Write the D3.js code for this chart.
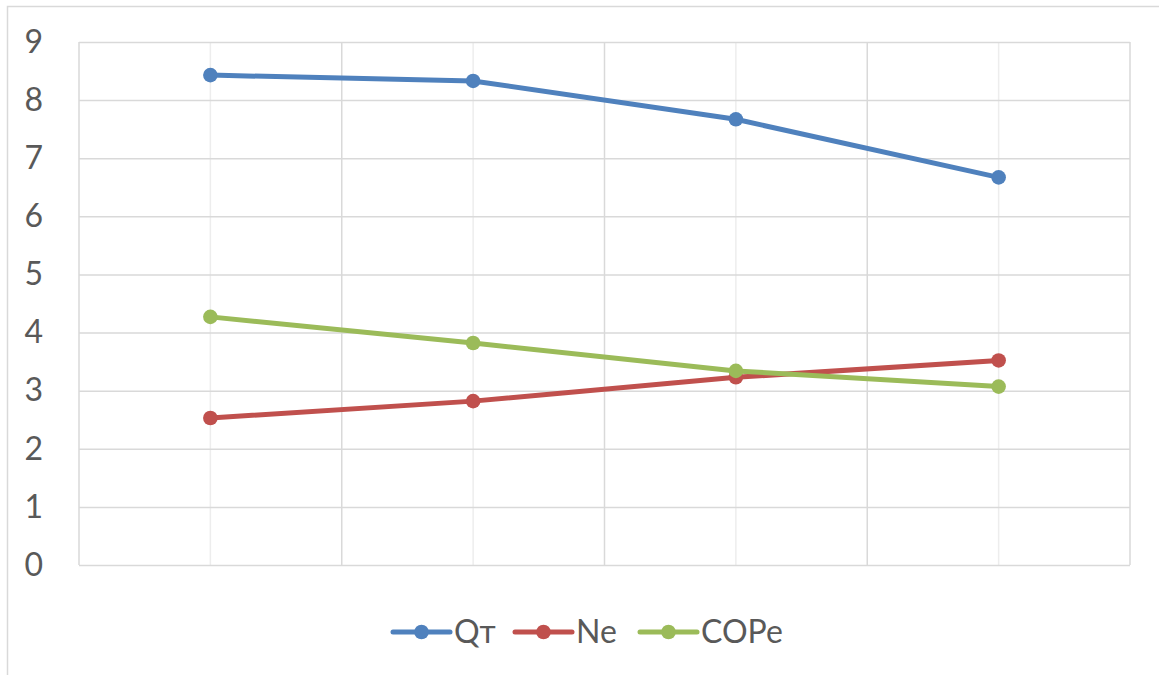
<!DOCTYPE html>
<html>
<head>
<meta charset="utf-8">
<script src="https://cdn.jsdelivr.net/npm/d3@7"></script>
<style>
  body { margin: 0; background: #fff; }
  svg { display: block; font-family: Lato, "Open Sans", sans-serif; }
</style>
</head>
<body>
<div id="chart"></div>
<script>
// data
const categories = ["1", "2", "3", "4"];
const qt   = [8.43, 8.33, 7.67, 6.67];
const ne   = [2.53, 2.82, 3.23, 3.52];
const cope = [4.27, 3.82, 3.34, 3.07];
const yTicks = [0, 1, 2, 3, 4, 5, 6, 7, 8, 9];

const series = [
  {name: "Q\u0442", values: qt,   color: "#4f81bd"},
  {name: "Ne",      values: ne,   color: "#c0504d"},
  {name: "COPe",    values: cope, color: "#9bbb59"}
];

const W = 1159, H = 675;
const m = {top: 42, right: 29, bottom: 110, left: 79},
    w = W - m.left - m.right,
    h = H - m.top - m.bottom;

const svg = d3.select("#chart")
  .append("svg")
    .attr("width", W)
    .attr("height", H);

// chart frame
svg.append("rect")
    .attr("x", 7.5).attr("y", 6.5)
    .attr("width", W + 20).attr("height", H + 20)
    .attr("fill", "none")
    .attr("stroke", "#d9d9d9")
    .attr("stroke-width", 1.5);

const g = svg.append("g")
    .attr("transform", `translate(${m.left},${m.top})`);

var x = d3.scaleBand()
    .domain(categories)
    .range([0, w]);

var y = d3.scaleLinear()
    .domain([0, 9])
    .range([h, 0]);

// minor vertical lines at category centers
g.append("g")
  .selectAll("line")
  .data(categories)
  .enter().append("line")
    .attr("x1", d => x(d) + x.bandwidth() / 2)
    .attr("x2", d => x(d) + x.bandwidth() / 2)
    .attr("y1", 0).attr("y2", h)
    .attr("stroke", "#ededed")
    .attr("stroke-width", 1.5);

// vertical lines at category boundaries
g.append("g")
  .selectAll("line")
  .data(categories.concat(["end"]))
  .enter().append("line")
    .attr("x1", (d, i) => i * x.bandwidth())
    .attr("x2", (d, i) => i * x.bandwidth())
    .attr("y1", 0).attr("y2", h)
    .attr("stroke", "#d9d9d9")
    .attr("stroke-width", 1.5);

// horizontal gridlines + y labels
var Yaxis = g.append("g")
    .call(d3.axisLeft(y).tickValues(yTicks).tickSize(-w).tickPadding(36));
Yaxis.select(".domain").remove();
Yaxis.selectAll(".tick line")
    .attr("stroke", "#d9d9d9")
    .attr("stroke-width", 1.5);
Yaxis.selectAll(".tick text")
    .attr("fill", "#595959")
    .style("font-size", "32px")
    .style("font-family", "Lato, 'Open Sans', sans-serif");

const line = d3.line()
    .x((d, i) => x(categories[i]) + x.bandwidth() / 2)
    .y(d => y(d));

series.forEach(s => {
  g.append("path")
      .datum(s.values)
      .attr("fill", "none")
      .attr("stroke", s.color)
      .attr("stroke-width", 5)
      .attr("stroke-linejoin", "round")
      .attr("d", line);
  g.selectAll(null)
    .data(s.values)
    .enter().append("circle")
      .attr("cx", (d, i) => x(categories[i]) + x.bandwidth() / 2)
      .attr("cy", d => y(d))
      .attr("r", 7.3)
      .attr("fill", s.color);
});

// legend
const legendX = [393, 515, 640];
const lg = svg.append("g").attr("transform", "translate(0,632)");
series.forEach((s, i) => {
  const item = lg.append("g").attr("transform", `translate(${legendX[i]},0)`);
  item.append("line")
      .attr("x1", 0).attr("x2", 57)
      .attr("stroke", s.color)
      .attr("stroke-width", 5)
      .attr("stroke-linecap", "round");
  item.append("circle")
      .attr("cx", 28.5).attr("r", 7.3)
      .attr("fill", s.color);
  item.append("text")
      .attr("x", 61).attr("y", 11)
      .attr("fill", "#595959")
      .style("font-size", "32px")
      .text(s.name);
});
</script>
</body>
</html>
